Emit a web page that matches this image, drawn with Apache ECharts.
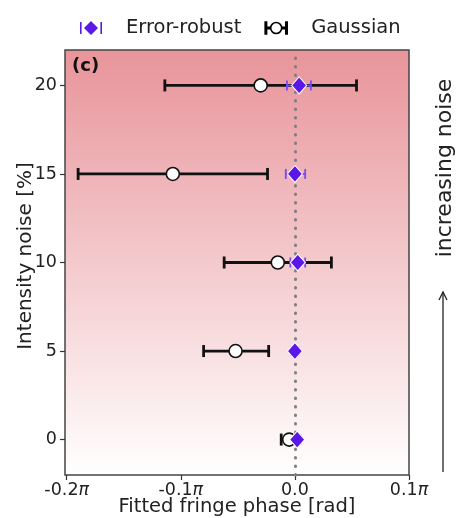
<!DOCTYPE html>
<html>
<head>
<meta charset="utf-8">
<script src="https://cdn.jsdelivr.net/npm/echarts@6/dist/echarts.min.js"></script>
<style>html,body{margin:0;padding:0;background:#fff}#c{width:457px;height:518px}</style>
</head>
<body>
<div id="c"></div>
<script>
// Data (phase in units of pi)
const noiseLevels = [0, 5, 10, 15, 20];
const gaussMean = [-0.005, -0.052, -0.015, -0.107, -0.030];
const gaussLow  = [-0.012, -0.080, -0.062, -0.190, -0.114];
const gaussHigh = [0.002, -0.023, 0.032, -0.024, 0.054];
const robustMean = [0.002, 0.000, 0.0025, 0.000, 0.0037];
const robustLow  = [-0.001, -0.003, -0.004, -0.008, -0.007];
const robustHigh = [0.005, 0.003, 0.009, 0.009, 0.014];
const xTicks = [-0.2, -0.1, 0.0, 0.1];
const xTickLabels = ['-0.2π', '-0.1π', '0.0', '0.1π'];
const yTicks = [0, 5, 10, 15, 20];
const xTitle = 'Fitted fringe phase [rad]';
const yTitle = 'Intensity noise [%]';

const FONT = 'DejaVu Sans';
const PURPLE = '#5a17e6';
const PURPLE_BAR = '#7a4af0';

function errData(lo, hi) {
  return noiseLevels.map((y, i) => [lo[i], hi[i], y]);
}
function errRender(color, lw, capH) {
  return function (params, api) {
    const p1 = api.coord([api.value(0), api.value(2)]);
    const p2 = api.coord([api.value(1), api.value(2)]);
    const st = { stroke: color, lineWidth: lw };
    return {
      type: 'group',
      children: [
        { type: 'line', shape: { x1: p1[0], y1: p1[1], x2: p2[0], y2: p2[1] }, style: st },
        { type: 'line', shape: { x1: p1[0], y1: p1[1] - capH, x2: p1[0], y2: p1[1] + capH }, style: st },
        { type: 'line', shape: { x1: p2[0], y1: p2[1] - capH, x2: p2[0], y2: p2[1] + capH }, style: st }
      ]
    };
  };
}

const chart = echarts.init(document.getElementById('c'));
chart.setOption({
  animation: false,
  textStyle: { fontFamily: FONT },
  grid: {
    left: 65, right: 48, top: 50, bottom: 43,
    outerBoundsMode: 'none',
    containLabel: false,
    show: true,
    borderColor: '#444', borderWidth: 1.5,
    backgroundColor: {
      type: 'linear', x: 0, y: 0, x2: 0, y2: 1,
      colorStops: [{ offset: 0, color: '#e8949a' }, { offset: 1, color: '#ffffff' }]
    }
  },
  legend: {
    left: 75, top: 13,
    itemWidth: 22, itemHeight: 14, itemGap: 23,
    textStyle: { fontFamily: FONT, fontSize: 19.5, color: '#222', padding: [0, 0, 0, 19] },
    data: [
      { name: 'Error-robust', icon: 'path://M0,1h1.6v12h-1.6Z M20.4,1h1.6v12h-1.6Z M11,0L18,7L11,14L4,7Z',
        itemStyle: { color: PURPLE, borderWidth: 0 } },
      { name: 'Gaussian', icon: 'path://M0,1h1.4v12h-1.4Z M20.6,1h1.4v12h-1.4Z M1.4,6.3h4v1.4h-4Z M16.6,6.3h4v1.4h-4Z M11,1.5A5.5,5.5 0 1 0 11.001,1.5Z',
        itemStyle: { color: '#fff', borderColor: '#000', borderWidth: 1.6 } }
    ]
  },
  xAxis: {
    type: 'value', min: -0.2015, max: 0.1,
    splitLine: { show: false },
    axisLine: { show: false, onZero: false },
    axisTick: { show: true, length: 5, lineStyle: { color: '#333', width: 1.2 }, customValues: xTicks },
    axisLabel: {
      customValues: xTicks, fontSize: 17.5, color: '#222', margin: 6, fontFamily: FONT,
      formatter: function (v) {
        const i = xTicks.findIndex(t => Math.abs(t - v) < 1e-9);
        const s = i >= 0 ? xTickLabels[i] : '';
        return s.replace('π', '{pi|π}');
      },
      rich: { pi: { fontStyle: 'italic', fontSize: 17.5, fontFamily: FONT, color: '#222' } }
    }
  },
  yAxis: {
    type: 'value', min: -2, max: 22,
    splitLine: { show: false },
    axisLine: { show: false, onZero: false },
    axisTick: { show: true, length: 5, lineStyle: { color: '#333', width: 1.2 }, customValues: yTicks },
    axisLabel: { customValues: yTicks, fontSize: 17.5, color: '#222', margin: 8, fontFamily: FONT }
  },
  graphic: [
    { type: 'text', x: 237, y: 507, z: 100,
      style: { text: xTitle, font: '19.5px "DejaVu Sans"', fill: '#222', align: 'center', verticalAlign: 'middle' } },
    { type: 'text', x: 26, y: 256, rotation: Math.PI / 2, z: 100,
      style: { text: yTitle, font: '20px "DejaVu Sans"', fill: '#222', align: 'center', verticalAlign: 'middle' } },
    { type: 'text', left: 72, top: 57, z: 100,
      style: { text: '(c)', font: 'bold 18px "DejaVu Sans"', fill: '#111' } },
    { type: 'text', x: 445, y: 168, rotation: Math.PI / 2, z: 100,
      style: { text: 'increasing noise', font: '22px "DejaVu Sans"', fill: '#222', align: 'center', verticalAlign: 'middle' } },
    { type: 'line', shape: { x1: 443, y1: 472, x2: 443, y2: 292 }, style: { stroke: '#222', lineWidth: 1.3 } },
    { type: 'polyline', shape: { points: [[439, 300], [443, 292], [447, 300]] }, style: { stroke: '#222', lineWidth: 1.3, fill: null } }
  ],
  series: [
    {
      name: 'zeroLine', type: 'line', data: [], silent: true,
      markLine: {
        silent: true, symbol: 'none', label: { show: false },
        lineStyle: { type: [0.5, 8], color: '#7f7f7f', width: 3, cap: 'round' },
        data: [{ xAxis: 0 }]
      }
    },
    {
      name: 'gaussErr', type: 'custom', z: 3,
      renderItem: errRender('#111', 2.8, 6),
      data: errData(gaussLow, gaussHigh),
      encode: { x: [0, 1], y: 2 }
    },
    {
      name: 'Gaussian', type: 'scatter', z: 4,
      symbol: 'circle', symbolSize: 13,
      itemStyle: { color: '#fff', borderColor: '#111', borderWidth: 1.6, opacity: 1 },
      data: noiseLevels.map((y, i) => [gaussMean[i], y])
    },
    {
      name: 'robustErr', type: 'custom', z: 5,
      renderItem: errRender(PURPLE_BAR, 1.8, 5),
      data: errData(robustLow, robustHigh),
      encode: { x: [0, 1], y: 2 }
    },
    {
      name: 'Error-robust', type: 'scatter', z: 6,
      symbol: 'diamond', symbolSize: [15, 17],
      itemStyle: { color: PURPLE, borderColor: '#fff', borderWidth: 1, opacity: 1 },
      data: noiseLevels.map((y, i) => [robustMean[i], y])
    }
  ]
});
</script>
</body>
</html>
